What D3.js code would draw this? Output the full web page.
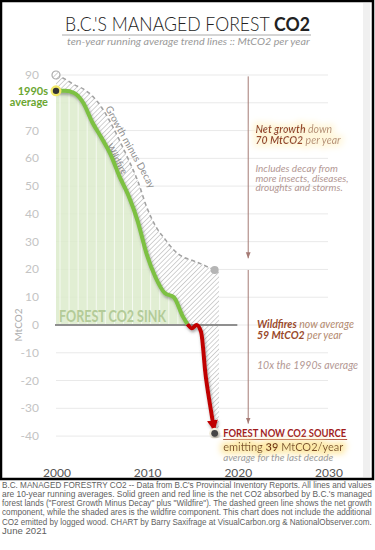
<!DOCTYPE html>
<html>
<head>
<meta charset="utf-8">
<script src="https://cdn.jsdelivr.net/npm/d3@7"></script>
<style>
  body { margin: 0; background: #fff; }
  svg { display: block; }
  text { font-family: Lato, "Open Sans", sans-serif; }
</style>
</head>
<body>
<svg id="chart" width="375" height="550"></svg>
<script>
// net CO2 (growth minus decay plus wildfire), MtCO2/yr, 10-yr running average
var netYears = [2000, 2001, 2002, 2003, 2004, 2005, 2006, 2007, 2008, 2009, 2010, 2011, 2012, 2013, 2014,
                2014.5, 2015, 2015.5, 2016, 2016.5, 2017, 2017.5];
var netValues = [84.3, 84.3, 83.5, 80, 73, 67.5, 61.5, 53.5, 46.5, 37.5, 25.5, 17, 11.5, 10, 3,
                 0.3, -1.2, 0, -2.5, -18, -29, -39];

// forest growth minus decay (dashed line)
var growthYears = [2000, 2001, 2002, 2003, 2004, 2005, 2006, 2007, 2008, 2009, 2010, 2011, 2012, 2013,
                   2014, 2015, 2016, 2017, 2017.5];
var growthValues = [90, 88.5, 86.5, 85, 82.5, 78.5, 73, 66.5, 59.5, 52, 42.5, 35.5, 31, 27,
                    24.5, 23.3, 22, 20.5, 19.8];

// 80 sits under the "1990s average" label in the original, so it is not drawn
var yTicks = [-40, -30, -20, -10, 0, 10, 20, 30, 40, 50, 60, 70, 80, 90];
var yLabels = [-40, -30, -20, -10, 0, 10, 20, 30, 40, 50, 60, 70, 90];
var xTicks = [2000, 2010, 2020, 2030];

var footerLines = [
  "B.C. MANAGED FORESTRY CO2 -- Data from B.C's Provincial Inventory Reports. All lines and values",
  "are 10-year running averages. Solid green and red line is the net CO2 absorbed by B.C.'s managed",
  "forest lands (\"Forest Growth Minus Decay\" plus \"Wildfire\"). The dashed green line shows the net growth",
  "component, while the shaded ares is the wildfire component. This chart does not include the additional",
  "CO2 emitted by logged wood. CHART by Barry Saxifrage at VisualCarbon.org & NationalObserver.com.",
  "June 2021"
];

var net = netYears.map(function (d, i) { return { year: d, value: netValues[i] }; });
var growth = growthYears.map(function (d, i) { return { year: d, value: growthValues[i] }; });
var lastNet = net[net.length - 1];
var lastGrowth = growth[growth.length - 1];

var svg = d3.select("#chart");

var x = d3.scaleLinear().domain([2000, 2030]).range([56, 328]);
var y = d3.scaleLinear().domain([-40, 90]).range([436.1, 75]);

//Squeeze or stretch a text horizontally so it spans the given width
function fitWidth(sel, x0, width) {
  sel.each(function () {
    var w = this.getComputedTextLength();
    d3.select(this).attr("x", 0)
      .attr("transform", "translate(" + x0 + "," + d3.select(this).attr("y") + ") scale(" + (width / w) + ",1)")
      .attr("y", 0);
  });
}

var defs = svg.append("defs");

//Diagonal hatch for the wildfire band
var pat = defs.append("pattern")
    .attr("id", "hatch")
    .attr("patternUnits", "userSpaceOnUse")
    .attr("width", 3.4).attr("height", 3.4)
    .attr("patternTransform", "rotate(45)");
pat.append("rect").attr("width", 3.4).attr("height", 3.4).attr("fill", "#fff");
pat.append("line")
    .attr("x1", 0).attr("y1", 0).attr("x2", 0).attr("y2", 3.4)
    .attr("stroke", "#9c9c9c").attr("stroke-width", 0.9);

//Soft shadow under the net line
defs.append("filter").attr("id", "shadow")
    .attr("x", "-30%").attr("y", "-10%").attr("width", "160%").attr("height", "120%")
  .append("feDropShadow")
    .attr("dx", 1).attr("dy", 2).attr("stdDeviation", 1.6)
    .attr("flood-color", "#555").attr("flood-opacity", 0.55);

//Coloured glow behind some of the notes
function glow(id, color, r) {
  var f = defs.append("filter").attr("id", id)
      .attr("x", "-20%").attr("y", "-60%").attr("width", "140%").attr("height", "220%");
  f.append("feMorphology").attr("in", "SourceAlpha").attr("operator", "dilate").attr("radius", r).attr("result", "d");
  f.append("feGaussianBlur").attr("in", "d").attr("stdDeviation", r).attr("result", "b");
  f.append("feFlood").attr("flood-color", color).attr("result", "c");
  f.append("feComposite").attr("in", "c").attr("in2", "b").attr("operator", "in").attr("result", "g");
  var m = f.append("feMerge");
  m.append("feMergeNode").attr("in", "g");
  m.append("feMergeNode").attr("in", "SourceGraphic");
}
glow("yglow", "#fde7a0", 3);
glow("softglow", "#fff6d8", 3);

//Arrow heads
defs.append("marker").attr("id", "redArrow")
    .attr("viewBox", "0 0 10 10").attr("refX", 12).attr("refY", 5)
    .attr("markerUnits", "userSpaceOnUse")
    .attr("markerWidth", 11).attr("markerHeight", 11)
    .attr("orient", "auto")
  .append("path").attr("d", "M0,0 L10,5 L0,10 z").attr("fill", "#c00000");
defs.append("marker").attr("id", "brownArrow")
    .attr("viewBox", "0 0 10 10").attr("refX", 10).attr("refY", 5)
    .attr("markerUnits", "userSpaceOnUse")
    .attr("markerWidth", 6).attr("markerHeight", 6)
    .attr("orient", "auto")
  .append("path").attr("d", "M0,1 L10,5 L0,9 z").attr("fill", "#a57a74");

//Frame
svg.append("rect")
    .attr("x", 1).attr("y", 1).attr("width", 372).attr("height", 478)
    .attr("fill", "#fff").attr("stroke", "#000").attr("stroke-width", 2.5);
svg.append("rect")
    .attr("x", 363).attr("y", 3).attr("width", 7).attr("height", 474)
    .attr("fill", "#f0f0f0");

//Title
var title = svg.append("text")
    .attr("y", 31)
    .style("font-size", "19px").attr("fill", "#222");
title.append("tspan").style("font-weight", 300).text("B.C.'S MANAGED FOREST ");
title.append("tspan").style("font-weight", "bold").text("CO2");
fitWidth(title, 65, 245);

svg.append("line")
    .attr("x1", 62).attr("x2", 311).attr("y1", 35).attr("y2", 35)
    .attr("stroke", "#aaa").attr("stroke-width", 1);
var sub = svg.append("text")
    .attr("y", 45)
    .style("font-size", "10px").style("font-style", "italic")
    .attr("fill", "#9a9a9a")
    .text("ten-year running average trend lines :: MtCO2 per year");
fitWidth(sub, 67, 243);

//Horizontal gridlines
svg.append("g").selectAll("line")
  .data(yTicks)
  .enter().append("line")
    .attr("x1", x(2000)).attr("x2", x(2030))
    .attr("y1", function (d) { return y(d); })
    .attr("y2", function (d) { return y(d); })
    .attr("stroke", "#e9e9e9").attr("stroke-width", 1);

//Y labels
svg.append("g").selectAll("text")
  .data(yLabels)
  .enter().append("text")
    .attr("x", 39)
    .attr("y", function (d) { return y(d) + 4; })
    .attr("text-anchor", "end")
    .style("font-size", "12px")
    .attr("fill", "#c4c4c4")
    .text(function (d) { return d; });

svg.append("text")
    .attr("transform", "translate(22," + y(0) + ") rotate(-90)")
    .attr("text-anchor", "middle")
    .style("font-size", "10px")
    .attr("fill", "#ababab")
    .text("MtCO2");

//X labels
svg.append("g").selectAll("text")
  .data(xTicks)
  .enter().append("text")
    .attr("x", function (d) { return x(d) + 1; })
    .attr("y", 476.5)
    .attr("text-anchor", "middle")
    .style("font-size", "12px")
    .attr("fill", "#555")
    .text(function (d) { return d; });

//Green sink area
var sink = net.filter(function (d) { return d.value >= 0 && d.year <= 2014.5; });
var sinkArea = d3.area()
    .x(function (d) { return x(d.year); })
    .y0(y(0))
    .y1(function (d) { return y(d.value); })
    .curve(d3.curveMonotoneX);

defs.append("clipPath").attr("id", "sinkClip")
  .append("path").attr("d", sinkArea(sink));

svg.append("path")
    .attr("d", sinkArea(sink))
    .attr("fill", "#dcebcb")
    .attr("opacity", 0.85);

svg.append("g").attr("clip-path", "url(#sinkClip)")
  .selectAll("line")
  .data(d3.range(2000, 2015))
  .enter().append("line")
    .attr("x1", function (d) { return x(d) + 4; })
    .attr("x2", function (d) { return x(d) + 4; })
    .attr("y1", y(0)).attr("y2", y(90))
    .attr("stroke", "#fff").attr("stroke-opacity", 0.7).attr("stroke-width", 1);

//Wildfire band (between growth line and net line)
var aboveNet = d3.area()
    .x(function (d) { return x(d.year); })
    .y0(0)
    .y1(function (d) { return y(d.value); })
    .curve(d3.curveMonotoneX);
var fireClip = defs.append("clipPath").attr("id", "fireClip");
fireClip.append("path").attr("d", aboveNet(net));
fireClip.append("rect")
    .attr("x", x(lastNet.year)).attr("y", 0)
    .attr("width", x(2018) - x(lastNet.year)).attr("height", y(lastNet.value));

var belowGrowth = d3.area()
    .x(function (d) { return x(d.year); })
    .y0(y(-45))
    .y1(function (d) { return y(d.value); })
    .curve(d3.curveMonotoneX);
var fireG = svg.append("g").attr("clip-path", "url(#fireClip)");
fireG.append("path").attr("d", belowGrowth(growth)).attr("fill", "url(#hatch)");
fireG.append("rect")
    .attr("x", x(lastGrowth.year) - 0.5).attr("y", y(lastGrowth.value))
    .attr("width", x(2018) - x(lastGrowth.year) + 0.5)
    .attr("height", y(-45) - y(lastGrowth.value))
    .attr("fill", "url(#hatch)");

//Zero line
svg.append("line")
    .attr("x1", x(2000) - 1).attr("x2", x(2020))
    .attr("y1", y(0)).attr("y2", y(0))
    .attr("stroke", "#8f8f8f").attr("stroke-width", 2);

svg.append("text")
    .attr("x", 59).attr("y", 322)
    .attr("textLength", 107).attr("lengthAdjust", "spacingAndGlyphs")
    .style("font-size", "17px").style("font-weight", "bold")
    .attr("fill", "#b3cb98")
    .text("FOREST CO2 SINK");

//Growth minus decay (dashed)
var line = d3.line()
    .x(function (d) { return x(d.year); })
    .y(function (d) { return y(d.value); })
    .curve(d3.curveMonotoneX);

svg.append("path")
    .attr("d", line(growth))
    .attr("fill", "none")
    .attr("stroke", "#a3a3a3")
    .attr("stroke-width", 1.6)
    .attr("stroke-dasharray", "4,3");

svg.append("circle")
    .attr("cx", x(2000)).attr("cy", y(90)).attr("r", 4)
    .attr("fill", "url(#hatch)").attr("stroke", "#aaa").attr("stroke-width", 1.2);
svg.append("circle")
    .attr("cx", x(lastGrowth.year)).attr("cy", y(lastGrowth.value)).attr("r", 4)
    .attr("fill", "#b5b5b5");

//Rotated labels along the band
svg.append("text")
    .attr("transform", "translate(" + (x(2005.4)) + "," + y(78) + ") rotate(61)")
    .style("font-size", "10px")
    .attr("fill", "#8f8f8f")
    .text("Growth minus Decay");
svg.append("text")
    .attr("transform", "translate(" + x(2005.55) + "," + y(64.5) + ") rotate(62)")
    .style("font-size", "9.5px")
    .attr("fill", "#8f8f8f")
    .text("Wildfire");

//Net line: green while a sink, red once a source
var greenPart = net.filter(function (d) { return d.year <= 2014.5; });
var redPart = net.filter(function (d) { return d.year >= 2014.5; });

svg.append("path")
    .attr("d", line(greenPart))
    .attr("fill", "none")
    .attr("stroke", "#7dc142")
    .attr("stroke-width", 4)
    .attr("stroke-linejoin", "round")
    .attr("filter", "url(#shadow)");

svg.append("path")
    .attr("d", line(redPart))
    .attr("fill", "none")
    .attr("stroke", "#c00000")
    .attr("stroke-width", 4)
    .attr("stroke-linejoin", "round")
    .attr("marker-end", "url(#redArrow)")
    .attr("filter", "url(#shadow)");

//1990s average marker
svg.append("circle")
    .attr("cx", x(2000)).attr("cy", y(net[0].value)).attr("r", 5.5)
    .attr("fill", "#f1e86a");
svg.append("circle")
    .attr("cx", x(2000)).attr("cy", y(net[0].value)).attr("r", 3.2)
    .attr("fill", "#333");
var lbl90 = svg.append("text")
    .attr("y", 95)
    .attr("text-anchor", "end")
    .style("font-size", "11px").style("font-weight", "bold")
    .attr("fill", "#6aa631");
lbl90.append("tspan").attr("x", 48).text("1990s");
lbl90.append("tspan").attr("x", 48).attr("dy", 10.5).text("average");

//End marker
svg.append("circle")
    .attr("cx", x(lastNet.year)).attr("cy", y(lastNet.value)).attr("r", 5.5)
    .attr("fill", "#f3eede");
svg.append("circle")
    .attr("cx", x(lastNet.year)).attr("cy", y(lastNet.value)).attr("r", 3.4)
    .attr("fill", "#444")
    .attr("filter", "url(#shadow)");

//Right side brackets
var bx = x(2021.2);
svg.append("line")
    .attr("x1", bx).attr("x2", bx)
    .attr("y1", y(89.5)).attr("y2", y(24))
    .attr("stroke", "#a57a74").attr("stroke-width", 1)
    .attr("marker-end", "url(#brownArrow)");
svg.append("line")
    .attr("x1", bx).attr("x2", bx)
    .attr("y1", y(19.8)).attr("y2", y(-35.5))
    .attr("stroke", "#a57a74").attr("stroke-width", 1)
    .attr("marker-end", "url(#brownArrow)");

//Multi-line note: each row is a list of styled pieces
function note(xp, yp, rows, size, lead, glowId) {
  var t = svg.append("text")
      .attr("x", xp).attr("y", yp)
      .style("font-size", size + "px");
  if (glowId) t.attr("filter", "url(#" + glowId + ")");
  rows.forEach(function (parts, r) {
    parts.forEach(function (p, k) {
      var s = t.append("tspan")
          .style("font-weight", p.bold ? "bold" : "normal")
          .style("font-style", p.italic === false ? "normal" : "italic")
          .attr("fill", p.color)
          .text(p.text);
      if (k === 0 && r > 0) s.attr("x", xp).attr("dy", lead);
    });
  });
  return t;
}

var rust = "#9a4a2c", tan = "#b3896e", rose = "#b39894";
var nx = x(2022);

note(nx, 133, [
  [{ text: "Net growth", bold: true, color: rust }, { text: " down", color: tan }],
  [{ text: "70 MtCO2", bold: true, color: rust }, { text: " per year", color: tan }]
], 10.5, 10.5, "softglow");
note(nx, 172, [
  [{ text: "Includes decay from", color: rose }],
  [{ text: "more insects, diseases,", color: rose }],
  [{ text: "droughts and storms.", color: rose }]
], 10, 9.5);

note(nx + 1.5, 328, [
  [{ text: "Wildfires", bold: true, color: rust }, { text: " now average", color: tan }],
  [{ text: "59 MtCO2", bold: true, color: rust }, { text: " per year", color: tan }]
], 10.5, 10.5);
note(nx + 1.5, 368.5, [[{ text: "10x the 1990s average", color: rose }]], 10.5, 0);

//Source call-out
var sx = x(lastNet.year) + 8.5;
note(sx, 436.5, [[{ text: "FOREST NOW CO2 SOURCE", bold: true, italic: false, color: "#a01c1c" }]], 10.5, 0)
    .attr("textLength", 123).attr("lengthAdjust", "spacingAndGlyphs");
svg.append("line")
    .attr("x1", sx).attr("x2", sx + 124)
    .attr("y1", 439.5).attr("y2", 439.5)
    .attr("stroke", "#a8403a").attr("stroke-width", 1);
note(sx, 450.5, [[
  { text: "emitting ", italic: false, color: "#7a4a22" },
  { text: "39", bold: true, italic: false, color: "#7a3a12" },
  { text: " MtCO2/year", italic: false, color: "#7a4a22" }
]], 11, 0, "yglow");
note(sx, 460.5, [[{ text: "average for the last decade", color: "#9b9b9b" }]], 9.5, 0)
    .attr("textLength", 110).attr("lengthAdjust", "spacingAndGlyphs");

//Footer, justified to the page width
var foot = svg.append("g").selectAll("text")
  .data(footerLines)
  .enter().append("text")
    .attr("y", function (d, i) { return 487.5 + i * 9.3; })
    .style("font-family", "'Liberation Sans', Arial, sans-serif")
    .style("font-size", "9.6px")
    .attr("fill", "#5f5f5f")
    .text(function (d) { return d; });
fitWidth(foot.filter(function (d, i) { return i < footerLines.length - 1; }), 2, 370);
foot.filter(function (d, i) { return i === footerLines.length - 1; }).attr("x", 2);
</script>
</body>
</html>
